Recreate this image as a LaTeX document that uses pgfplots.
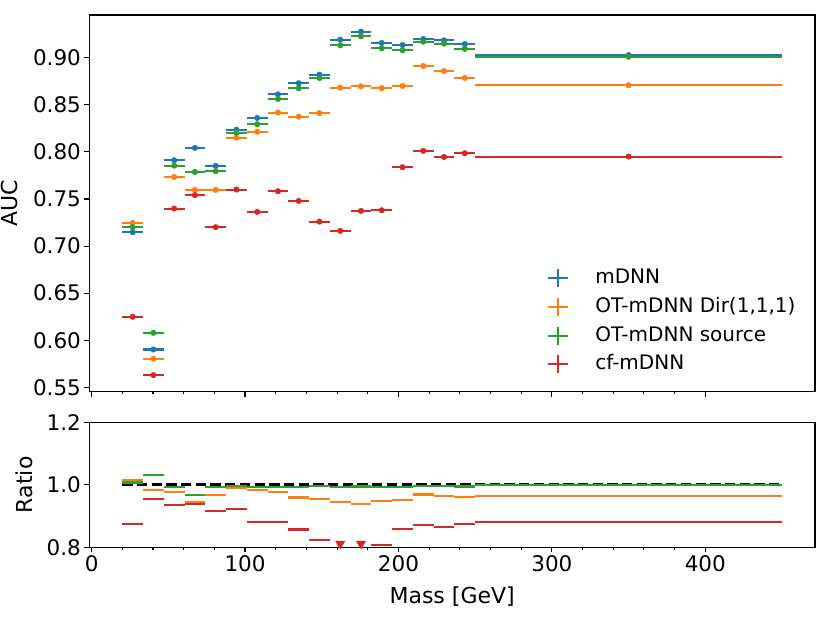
\documentclass[border=0pt]{standalone}
\usepackage{pgfplots}
\pgfplotsset{compat=1.18}
\usepackage{pgfplotstable}
\usepackage{fontspec}
\setmainfont{DejaVu Sans}
\definecolor{tabblue}{HTML}{1F77B4}
\definecolor{taborange}{HTML}{FF7F0E}
\definecolor{tabgreen}{HTML}{2CA02C}
\definecolor{tabred}{HTML}{D62728}

\pgfplotstableread{
x ex mdnn dir src cf
26.765 6.765 0.7147 0.7246 0.7200 0.6249
40.294 6.765 0.5902 0.5803 0.6079 0.5630
53.824 6.765 0.7911 0.7734 0.7854 0.7398
67.353 6.765 0.8042 0.7596 0.7787 0.7540
80.882 6.765 0.7851 0.7596 0.7794 0.7200
94.412 6.765 0.8236 0.8151 0.8204 0.7600
107.941 6.765 0.8360 0.8215 0.8293 0.7363
121.471 6.765 0.8611 0.8417 0.8562 0.7582
135.000 6.765 0.8728 0.8374 0.8675 0.7480
148.529 6.765 0.8820 0.8410 0.8784 0.7260
162.059 6.765 0.9191 0.8682 0.9131 0.7161
175.588 6.765 0.9276 0.8696 0.9226 0.7373
189.118 6.765 0.9156 0.8675 0.9099 0.7380
202.647 6.765 0.9134 0.8699 0.9078 0.7837
216.176 6.765 0.9198 0.8912 0.9170 0.8010
229.706 6.765 0.9184 0.8859 0.9149 0.7946
243.235 6.765 0.9145 0.8784 0.9095 0.7985
350.000 100.000 0.9027 0.8707 0.9010 0.7950
}\auc

\pgfplotstableread{
x ex rdir rsrc
26.765 6.765 1.0139 1.0074
40.294 6.765 0.9832 1.0300
53.824 6.765 0.9776 0.9928
67.353 6.765 0.9445 0.9683
80.882 6.765 0.9675 0.9927
94.412 6.765 0.9897 0.9961
107.941 6.765 0.9827 0.9920
121.471 6.765 0.9775 0.9943
135.000 6.765 0.9594 0.9939
148.529 6.765 0.9535 0.9959
162.059 6.765 0.9446 0.9935
175.588 6.765 0.9375 0.9946
189.118 6.765 0.9475 0.9938
202.647 6.765 0.9524 0.9939
216.176 6.765 0.9689 0.9970
229.706 6.765 0.9646 0.9962
243.235 6.765 0.9605 0.9945
350.000 100.000 0.9646 0.9981
}\ratio

\pgfplotstableread{
x ex rcf
26.765 6.765 0.8744
40.294 6.765 0.9539
53.824 6.765 0.9352
67.353 6.765 0.9376
80.882 6.765 0.9171
94.412 6.765 0.9228
107.941 6.765 0.8807
121.471 6.765 0.8805
135.000 6.765 0.8570
148.529 6.765 0.8231
189.118 6.765 0.8060
202.647 6.765 0.8580
216.176 6.765 0.8708
229.706 6.765 0.8652
243.235 6.765 0.8732
350.000 100.000 0.8807
}\ratiocf

\pgfplotstableread{
x y
162.059 0.8115
175.588 0.8115
}\lowcf

\begin{document}
\begin{tikzpicture}[font=\fontsize{20}{24}\selectfont]
\useasboundingbox (0,0) rectangle (830pt,623pt);
\pgfplotsset{
  every axis/.append style={
    scale only axis, width=725.7pt,
    xmin=-1.5, xmax=471.5,
    axis line style={line width=1.1pt},
    every tick/.style={line width=1.1pt, black},
    tick align=outside, tick pos=left,
    major tick length=4.86pt, minor tick length=2.78pt,
    xtick={0,100,200,300,400}, minor x tick num=4,
    /pgf/number format/assume math mode=true,
    tick label style={font=\fontsize{21.5}{25}\selectfont},
    label style={font=\fontsize{22}{26}\selectfont},
  },
  ebar/.style={only marks, mark=*, mark size=2.8pt, color=#1,
    error bars/.cd, x dir=both, x explicit, error mark=none,
    error bar style={line width=2.08pt, #1}},
  rbar/.style={only marks, mark=*, mark size=0pt, mark options={draw=none, fill=none}, color=#1,
    error bars/.cd, x dir=both, x explicit, error mark=none,
    error bar style={line width=2.08pt, #1}},
}
\begin{axis}[
  at={(89.3pt,231.3pt)}, anchor=south west, height=376.7pt,
  ymin=0.5454, ymax=0.9453,
  ytick={0.55,0.6,0.65,0.7,0.75,0.8,0.85,0.9},
  yticklabel style={/pgf/number format/.cd, fixed, fixed zerofill, precision=2},
  xticklabels={},
  ylabel={AUC},
  ylabel style={at={(axis description cs:-0.1093,0.5)}, anchor=center},
  legend cell align=left,
  legend image code/.code={
    \draw[line width=2.08pt] (-10pt,0pt) -- (10pt,0pt);
    \draw[line width=2.08pt] (0pt,-9pt) -- (0pt,9pt);
    \fill (0pt,0pt) circle (1.6pt);
  },
  legend style={draw=none, fill=none, at={(axis description cs:0.6266,0.3335)}, anchor=north west,
    font=\fontsize{20}{24}\selectfont, row sep=8.6pt, column sep=26pt,
    nodes={inner sep=0pt, text height=15.5pt, text depth=4.5pt}},
]
\addplot[ebar=tabblue] table[x=x, y=mdnn, x error=ex] {\auc};
\addlegendentry{mDNN}
\addplot[ebar=taborange] table[x=x, y=dir, x error=ex] {\auc};
\addlegendentry{OT-mDNN Dir(1,1,1)}
\addplot[ebar=tabgreen] table[x=x, y=src, x error=ex] {\auc};
\addlegendentry{OT-mDNN source}
\addplot[ebar=tabred] table[x=x, y=cf, x error=ex] {\auc};
\addlegendentry{cf-mDNN}
\end{axis}

\begin{axis}[
  at={(89.3pt,75.7pt)}, anchor=south west, height=125pt,
  ymin=0.8, ymax=1.2,
  ytick={0.8,1.0,1.2},
  yticklabel style={/pgf/number format/.cd, fixed, fixed zerofill, precision=1},
  xlabel={Mass [GeV]},
  xlabel style={at={(axis description cs:0.5,-0.398)}, anchor=center},
  ylabel={Ratio},
  ylabel style={at={(axis description cs:-0.090,0.5)}, anchor=center},
]
\addplot[black, line width=2.78pt, dash pattern=on 10.3pt off 4.4pt] coordinates {(20,1) (450,1)};
\addplot[rbar=taborange] table[x=x, y=rdir, x error=ex] {\ratio};
\addplot[rbar=tabgreen] table[x=x, y=rsrc, x error=ex] {\ratio};
\addplot[rbar=tabred] table[x=x, y=rcf, x error=ex] {\ratiocf};
\addplot[only marks, mark=triangle*, mark size=5.4pt, mark options={rotate=180}, tabred] table[x=x, y=y] {\lowcf};
\end{axis}
\end{tikzpicture}
\end{document}
